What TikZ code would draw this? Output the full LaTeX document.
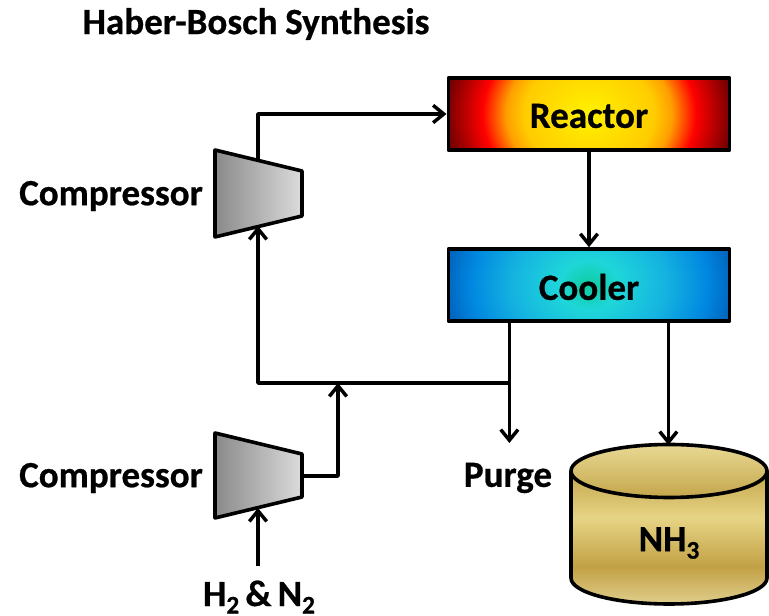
\documentclass[tikz,border=0pt]{standalone}
\usepackage{fontspec}
\setmainfont{Carlito}[BoldFont=Carlito Bold,BoldFeatures={FakeBold=0.6}]
\usetikzlibrary{arrows.meta,shadings,positioning}
\pgfdeclareradialshading{reactorsh}{\pgfpoint{0bp}{0bp}}{
 rgb(0bp)=(1,0.95,0);
 rgb(11bp)=(1,0.80,0);
 rgb(14bp)=(1,0.62,0);
 rgb(18bp)=(1,0,0);
 rgb(25bp)=(0.38,0,0);
 rgb(50bp)=(0.38,0,0)}
\pgfdeclareradialshading{coolersh}{\pgfpoint{0bp}{0bp}}{
 rgb(0bp)=(0.05,0.80,0.62);
 rgb(5bp)=(0.12,0.84,0.85);
 rgb(13bp)=(0.08,0.70,0.88);
 rgb(20bp)=(0,0.53,0.88);
 rgb(25bp)=(0,0.37,0.72);
 rgb(50bp)=(0,0.37,0.72)}
\pgfdeclareverticalshading{tanklid}{100bp}{
 rgb(0bp)=(0.77,0.65,0.29);
 rgb(25bp)=(0.77,0.65,0.29);
 rgb(75bp)=(0.91,0.85,0.58);
 rgb(100bp)=(0.91,0.85,0.58)}
\pgfdeclareverticalshading{tankbody}{100bp}{
 rgb(0bp)=(0.88,0.81,0.55);
 rgb(25bp)=(0.88,0.81,0.55);
 rgb(39bp)=(0.76,0.63,0.27);
 rgb(57.5bp)=(0.90,0.83,0.52);
 rgb(75bp)=(0.77,0.65,0.29);
 rgb(100bp)=(0.77,0.65,0.29)}
\tikzset{
 x=0.75pt,y=-0.75pt,
 every node/.style={font=\fontsize{27.8pt}{29pt}\selectfont\bfseries,inner sep=0pt},
 unit/.style={draw=black,line width=2.7pt,line join=round,minimum width=211pt,minimum height=54pt},
 comp/.style={draw=black,line width=2.7pt,line join=round,left color=black!46,right color=black!14},
 tank/.style={draw=black,line width=2.7pt,line join=round},
 flow/.style={draw=black,line width=2.6pt,line join=round},
 arr/.style={flow,-{Straight Barb[length=8pt,width=13pt,line width=2.6pt]}},
}
\newcommand{\lowered}[1]{\raisebox{-0.2em}{\fontsize{19pt}{20pt}\selectfont #1}}
\newcommand{\nudged}[1]{\raisebox{0pt}[\dimexpr\height+3pt]{#1}}
\begin{document}
\begin{tikzpicture}
\useasboundingbox (0,0) rectangle (769,616);
% units
\node[unit,path picture={
  \shade[shading=reactorsh] (path picture bounding box.center) ellipse (148 and 125);
}] (reactor) at (589,114) {\nudged{Reactor}};
\node[unit,path picture={
  \shade[shading=coolersh] (path picture bounding box.center) ellipse (148 and 125);
}] (cooler) at (589,285) {\nudged{Cooler}};
% compressors
\draw[comp] (215,150) -- (302,171) -- (302,216) -- (215,237) -- cycle;
\draw[comp] (215,433) -- (302,454) -- (302,497) -- (215,518) -- cycle;
\coordinate (c1top) at (258,161);
\coordinate (c1bot) at (258,226);
\coordinate (c2out) at (302,476);
\coordinate (c2bot) at (258,508);
% tank
\path[shading=tankbody] (571,471) -- (571,578) arc[start angle=180,end angle=360,x radius=98,y radius=-26] -- (767,471) -- cycle;
\draw[tank] (571,471) -- (571,578) arc[start angle=180,end angle=360,x radius=98,y radius=-26] -- (767,471);
\draw[tank,shading=tanklid] (669,471) ellipse (98 and 26.5);
\coordinate (tanktop) at (669,445);
% labels
\node (title) at (256,24) {Haber-Bosch\hspace{0.04em}\,Synthesis};
\node (lab1) at (111,196) {Compressor};
\node (lab2) at (111,478) {Compressor};
\node (purge) at (508,478) {Purge};
\node (nh3) at (669,543) {NH\lowered{3}};
\node (feed) at (259,597) {H\lowered{2}\,\&\,N\lowered{2}};
% junctions
\coordinate (j1) at (258,383);
\coordinate (j2) at (338,383);
\coordinate (j3) at (509,383);
\coordinate (feedtop) at (258,566);
\coordinate (cool1) at (509.4,322);
\coordinate (cool2) at (668.4,322);
\coordinate (purgetop) at (509.4,443);
% connectors
\draw[arr] (c1top) -- (258,114) -- (reactor.west);
\draw[arr] (reactor.south) -- (cooler.north);
\draw[flow] (cool1) -- (509.4,383);
\draw[arr] (509.4,383) -- (purgetop);
\draw[arr] (cool2) -- (668.4,445);
\draw[arr] (j3) -- (j1) -- (c1bot);
\draw[arr] (c2out) -- (338,476) -- (j2);
\draw[arr] (feedtop) -- (c2bot);
\end{tikzpicture}
\end{document}
